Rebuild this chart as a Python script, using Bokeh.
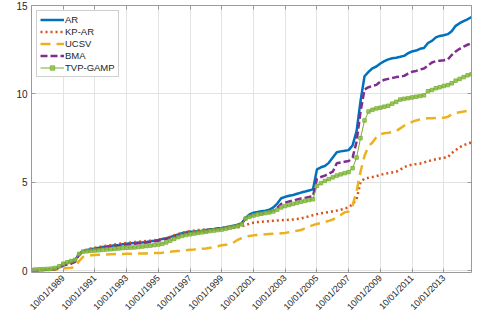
import pandas as pd
from math import pi
from bokeh.plotting import figure
from bokeh.models import (Range1d, FixedTicker, DatetimeTickFormatter, DatetimeAxis,
                          LinearAxis, CustomJSTickFormatter)
from bokeh.embed import file_html
from bokeh.resources import INLINE

# quarterly observations, Oct 1987 .. Jul 2015
dates = pd.date_range("1987-10-01", periods=112, freq="3MS")

ar = [0.00, 0.02, 0.04, 0.05, 0.06, 0.08, 0.12, 0.20, 0.38, 0.45,
      0.52, 0.60, 0.95, 1.12, 1.18, 1.22, 1.26, 1.30, 1.34, 1.37,
      1.40, 1.44, 1.46, 1.50, 1.52, 1.55, 1.57, 1.59, 1.60, 1.63,
      1.67, 1.70, 1.74, 1.80, 1.84, 1.90, 1.98, 2.05, 2.12, 2.17,
      2.20, 2.22, 2.24, 2.26, 2.30, 2.34, 2.36, 2.40, 2.42, 2.46,
      2.50, 2.55, 2.60, 2.68, 2.98, 3.18, 3.28, 3.32, 3.36, 3.40,
      3.45, 3.58, 3.80, 4.10, 4.18, 4.24, 4.28, 4.35, 4.42, 4.48,
      4.54, 4.60, 5.73, 5.85, 5.92, 6.10, 6.40, 6.70, 6.75, 6.78,
      6.82, 7.10, 7.90, 9.60, 11.00, 11.25, 11.45, 11.55, 11.72, 11.85,
      11.95, 12.02, 12.05, 12.10, 12.15, 12.30, 12.40, 12.45, 12.55, 12.60,
      12.88, 13.00, 13.20, 13.28, 13.32, 13.38, 13.55, 13.85, 14.00, 14.12,
      14.22, 14.35]

kp_ar = [0.00, 0.02, 0.04, 0.05, 0.06, 0.08, 0.12, 0.20, 0.35, 0.42,
         0.50, 0.58, 0.95, 1.12, 1.20, 1.26, 1.30, 1.34, 1.38, 1.42,
         1.45, 1.49, 1.52, 1.55, 1.57, 1.60, 1.62, 1.64, 1.66, 1.68,
         1.70, 1.73, 1.76, 1.80, 1.85, 1.92, 2.00, 2.08, 2.15, 2.20,
         2.24, 2.27, 2.30, 2.32, 2.33, 2.34, 2.35, 2.36, 2.37, 2.39,
         2.41, 2.43, 2.46, 2.52, 2.58, 2.66, 2.72, 2.75, 2.77, 2.79,
         2.80, 2.82, 2.84, 2.86, 2.87, 2.88, 2.90, 2.92, 2.96, 3.02,
         3.08, 3.14, 3.20, 3.25, 3.28, 3.32, 3.36, 3.40, 3.45, 3.52,
         3.58, 3.76, 4.05, 5.00, 5.22, 5.26, 5.30, 5.35, 5.42, 5.48,
         5.52, 5.56, 5.60, 5.72, 5.85, 5.95, 6.00, 6.03, 6.06, 6.12,
         6.20, 6.25, 6.30, 6.35, 6.39, 6.42, 6.65, 6.82, 6.98, 7.10,
         7.18, 7.26]

ucsv = [0.00, 0.01, 0.02, 0.03, 0.04, 0.05, 0.06, 0.08, 0.12, 0.15,
        0.17, 0.20, 0.55, 0.78, 0.84, 0.87, 0.89, 0.90, 0.91, 0.92,
        0.93, 0.94, 0.95, 0.95, 0.96, 0.96, 0.97, 0.97, 0.98, 0.98,
        0.99, 1.00, 1.00, 1.02, 1.05, 1.08, 1.10, 1.12, 1.14, 1.16,
        1.18, 1.20, 1.22, 1.24, 1.26, 1.30, 1.34, 1.38, 1.44, 1.47,
        1.50, 1.60, 1.75, 1.85, 1.93, 1.97, 2.00, 2.02, 2.04, 2.06,
        2.08, 2.09, 2.10, 2.12, 2.14, 2.18, 2.22, 2.26, 2.30, 2.40,
        2.50, 2.58, 2.64, 2.70, 2.76, 2.82, 2.90, 3.00, 3.15, 3.30,
        3.35, 3.70, 4.50, 5.60, 6.50, 7.05, 7.25, 7.55, 7.72, 7.77,
        7.80, 7.84, 7.90, 8.05, 8.20, 8.32, 8.42, 8.50, 8.56, 8.60,
        8.62, 8.63, 8.64, 8.64, 8.65, 8.70, 8.85, 8.92, 8.96, 9.00,
        9.05, 9.10]

bma = [0.00, 0.01, 0.03, 0.04, 0.05, 0.06, 0.09, 0.15, 0.30, 0.35,
       0.40, 0.50, 0.90, 1.08, 1.14, 1.18, 1.22, 1.26, 1.30, 1.33,
       1.36, 1.40, 1.42, 1.46, 1.48, 1.50, 1.53, 1.55, 1.56, 1.60,
       1.63, 1.66, 1.70, 1.76, 1.80, 1.86, 1.93, 2.00, 2.06, 2.10,
       2.14, 2.16, 2.18, 2.20, 2.22, 2.28, 2.32, 2.36, 2.40, 2.44,
       2.48, 2.52, 2.57, 2.65, 2.95, 3.08, 3.15, 3.20, 3.24, 3.28,
       3.32, 3.40, 3.55, 3.78, 3.85, 3.92, 3.97, 4.03, 4.08, 4.12,
       4.17, 4.22, 5.20, 5.30, 5.38, 5.48, 5.60, 6.08, 6.12, 6.16,
       6.20, 6.40, 7.30, 9.00, 10.25, 10.38, 10.45, 10.51, 10.70, 10.80,
       10.85, 10.90, 10.95, 10.98, 11.02, 11.15, 11.25, 11.30, 11.38, 11.44,
       11.60, 11.78, 11.85, 11.88, 11.90, 11.95, 12.20, 12.40, 12.55, 12.68,
       12.78, 12.88]

tvp_gamp = [0.05, 0.07, 0.08, 0.09, 0.10, 0.12, 0.16, 0.25, 0.40, 0.48,
            0.55, 0.62, 0.95, 1.08, 1.10, 1.12, 1.14, 1.16, 1.18, 1.20,
            1.22, 1.24, 1.26, 1.28, 1.30, 1.31, 1.32, 1.34, 1.37, 1.40,
            1.42, 1.45, 1.48, 1.52, 1.60, 1.70, 1.80, 1.90, 1.97, 2.02,
            2.06, 2.10, 2.14, 2.17, 2.20, 2.24, 2.27, 2.30, 2.33, 2.38,
            2.43, 2.48, 2.52, 2.62, 2.95, 3.05, 3.12, 3.18, 3.22, 3.26,
            3.30, 3.35, 3.45, 3.58, 3.66, 3.72, 3.78, 3.84, 3.90, 3.95,
            4.00, 4.04, 4.80, 4.95, 5.08, 5.18, 5.28, 5.38, 5.45, 5.52,
            5.58, 5.80, 6.40, 7.50, 8.50, 9.00, 9.10, 9.18, 9.22, 9.28,
            9.33, 9.45, 9.55, 9.68, 9.72, 9.76, 9.80, 9.84, 9.88, 9.92,
            10.15, 10.22, 10.32, 10.38, 10.45, 10.50, 10.60, 10.75, 10.85, 10.95,
            11.05, 11.12]

tick_dates = ["1989-10-01", "1991-10-01", "1993-10-01", "1995-10-01",
              "1997-10-01", "1999-10-01", "2001-10-01", "2003-10-01",
              "2005-10-01", "2007-10-01", "2009-10-01", "2011-10-01",
              "2013-10-01"]
y_ticks = [0, 5, 10, 15]

FONT = "Liberation Sans"
TXT = "#262626"
AXC = "#9a9a9a"

x_ticks_ms = [pd.Timestamp(d).value / 1e6 for d in tick_dates]

p = figure(width=495, height=318, x_axis_type="datetime",
           output_backend="svg", toolbar_location=None,
           x_range=Range1d(dates[0], dates[-1]),
           y_range=Range1d(-0.1, 15),
           min_border_left=31, min_border_right=24,
           min_border_top=5, min_border_bottom=0)
p.background_fill_color = "white"
p.border_fill_color = "white"
p.outline_line_color = None

fmt = "%m/%d/%Y"
p.xaxis.ticker = FixedTicker(ticks=x_ticks_ms)
p.xaxis.formatter = DatetimeTickFormatter(milliseconds=fmt, seconds=fmt, minsec=fmt,
                                          minutes=fmt, hourmin=fmt, hours=fmt, days=fmt,
                                          months=fmt, years=fmt)
p.xaxis.major_label_orientation = pi / 4
p.yaxis.ticker = FixedTicker(ticks=y_ticks)

for ax in [p.xaxis[0], p.yaxis[0]]:
    ax.axis_line_color = AXC
    ax.major_tick_line_color = AXC
    ax.major_tick_in = 4
    ax.major_tick_out = 0
    ax.minor_tick_line_color = None
    ax.major_label_text_font = FONT
    ax.major_label_text_color = TXT
p.xaxis.major_label_text_font_size = "9px"
p.yaxis.major_label_text_font_size = "10px"
p.xaxis.major_label_standoff = 4
p.yaxis.major_label_standoff = 4

blank = CustomJSTickFormatter(code="return ''")
top = DatetimeAxis(ticker=FixedTicker(ticks=x_ticks_ms), formatter=blank)
right = LinearAxis(ticker=FixedTicker(ticks=y_ticks), formatter=blank)
for ax in [top, right]:
    ax.axis_line_color = AXC
    ax.major_tick_line_color = AXC
    ax.major_tick_in = 4
    ax.major_tick_out = 0
    ax.minor_tick_line_color = None
    ax.major_label_standoff = 0
p.add_layout(top, "above")
p.add_layout(right, "right")

p.xgrid.ticker = FixedTicker(ticks=x_ticks_ms)
p.ygrid.ticker = FixedTicker(ticks=y_ticks)
p.grid.grid_line_color = "#e3e3e3"

p.line(dates, ar, line_color="#0072BD", line_width=2.5, legend_label="AR")
p.line(dates, kp_ar, line_color="#D95319", line_width=2.5, line_dash="2 3",
       legend_label="KP-AR")
p.line(dates, ucsv, line_color="#EDB120", line_width=2.5, line_dash="10 6",
       legend_label="UCSV")
p.line(dates, bma, line_color="#7E2F8E", line_width=2.5, line_dash="7 3",
       legend_label="BMA")
p.line(dates, tvp_gamp, line_color="#77AC30", line_width=1, legend_label="TVP-GAMP")
p.scatter(dates, tvp_gamp, marker="square", size=3.5, line_color="#77AC30",
          fill_color="#8cc04a", fill_alpha=0.8, line_alpha=0.8,
          legend_label="TVP-GAMP")

lg = p.legend[0]
lg.location = "top_left"
lg.margin = 5
lg.padding = 3
lg.spacing = 1
lg.glyph_width = 24
lg.glyph_height = 11
lg.label_height = 11
lg.label_standoff = 1
lg.label_text_font = FONT
lg.label_text_font_size = "9.5px"
lg.label_text_color = TXT
lg.border_line_color = "#a0a0a0"
lg.border_line_width = 1
lg.background_fill_alpha = 1

open("out.html", "w").write(file_html(p, INLINE))
